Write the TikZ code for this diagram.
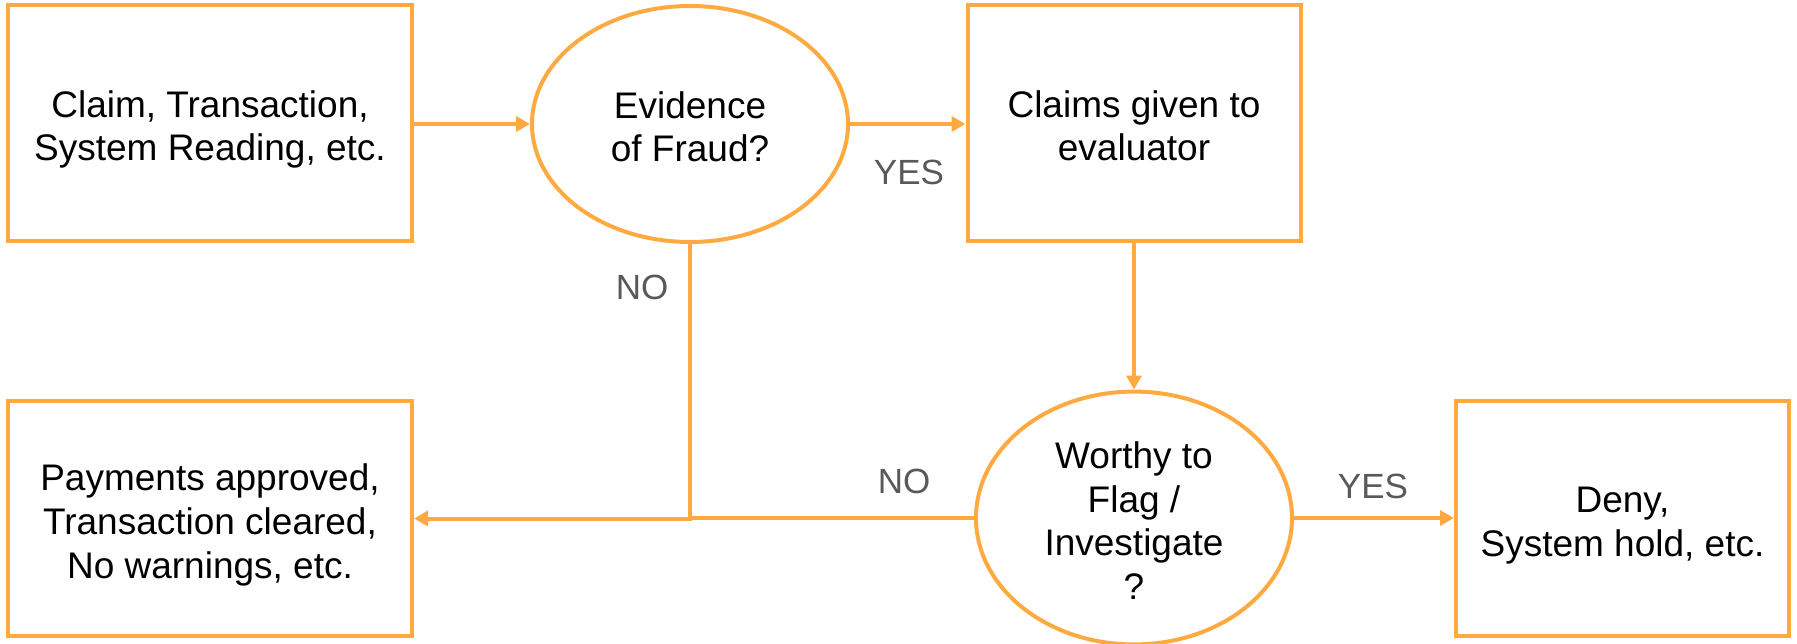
\documentclass[tikz,border=0pt]{standalone}
\usepackage{fontspec}
\setmainfont{Liberation Sans}
\usetikzlibrary{shapes.geometric,arrows.meta}
\definecolor{org}{HTML}{FFAA40}
\definecolor{lbl}{HTML}{595959}
\newcommand{\tTop}{\rule{0pt}{40pt}}
\newcommand{\tBot}{\rule[-8pt]{0pt}{8pt}}
\begin{document}
\begin{tikzpicture}[x=1pt,y=-1pt,
  every node/.style={font=\fontsize{37}{43.6}\selectfont, align=center, inner sep=0pt},
  boxn/.style={draw=org, line width=4pt, rectangle},
  elln/.style={draw=org, line width=4pt, ellipse, minimum width=316pt, minimum height=236pt},
  conn/.style={draw=org, line width=4pt},
  arr/.style={conn, -{Triangle[length=14pt,width=15pt]}},
  lab/.style={text=lbl, font=\fontsize{35}{40}\selectfont}]
\useasboundingbox (0,0) rectangle (1797,644);
\node[boxn, minimum width=404pt, minimum height=236pt] (b1) at (210,123) {\tTop Claim, Transaction,\\System Reading, etc.\tBot};
\node[elln] (e1) at (690,124) {\tTop Evidence\\of Fraud?\tBot};
\node[boxn, minimum width=333pt, minimum height=236pt] (b2) at (1134,123) {\tTop Claims given to\\evaluator\tBot};
\node[boxn, minimum width=404pt, minimum height=235pt] (b3) at (210,518.5) {\tTop Payments approved,\\Transaction cleared,\\No warnings, etc.\tBot};
\node[elln] (e2) at (1134,518) {\tTop Worthy to\\Flag /\\Investigate\\?\tBot};
\node[boxn, minimum width=333pt, minimum height=235pt] (b4) at (1622.5,518.5) {\tTop Deny,\\System hold, etc.\tBot};
\draw[arr] (b1.east |- e1.west) -- (e1.west);
\draw[arr] (e1.east) -- (e1.east -| b2.west);
\draw[arr] (b2.south) -- (e2.north);
\draw[arr] (e1.south) |- (b3.east);
\draw[conn] (e2.west) -- (e1.south |- e2.west);
\draw[arr] (e2.east) -- (e2.east -| b4.west);
\node[lab] (y1) at (909,172) {YES};
\node[lab] (n1) at (642,287) {NO};
\node[lab] (n2) at (904,481) {NO};
\node[lab] (y2) at (1373,486) {YES};
\end{tikzpicture}
\end{document}
